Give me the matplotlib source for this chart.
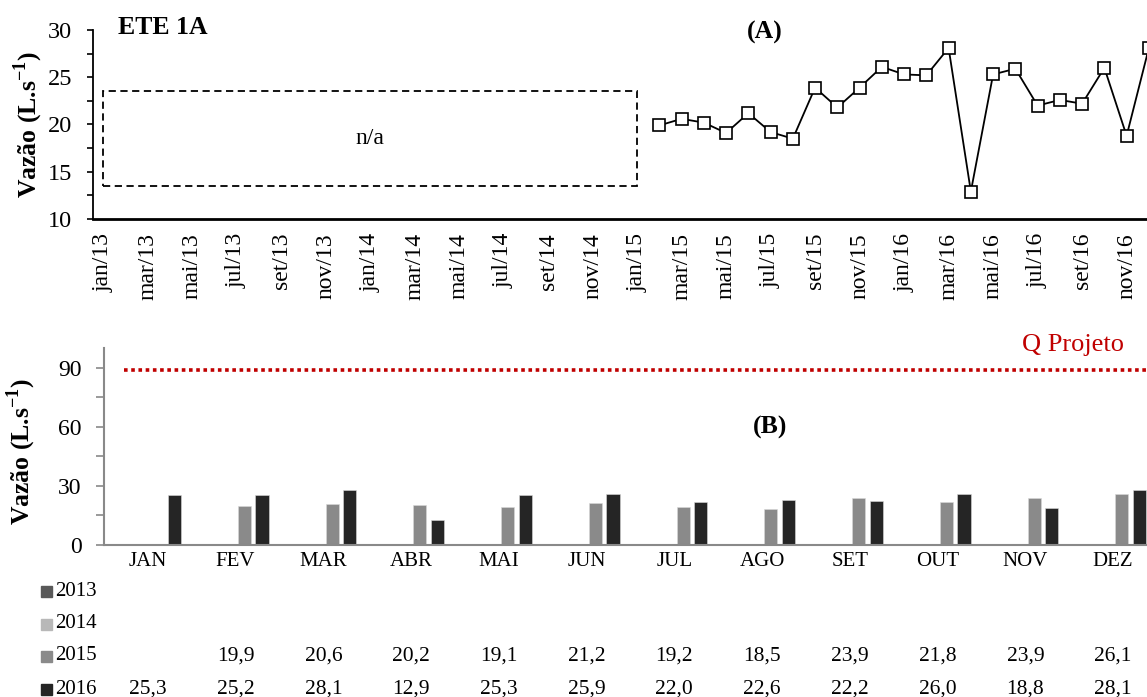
import numpy as np
import matplotlib
matplotlib.use("Agg")
import matplotlib.pyplot as plt
from matplotlib.patches import Rectangle
from matplotlib.ticker import MultipleLocator
import matplotlib.transforms as mtrans

plt.rcParams['font.family'] = ['Liberation Serif', 'DejaVu Serif']
plt.rcParams['mathtext.fontset'] = 'custom'
plt.rcParams['mathtext.rm'] = 'Liberation Serif'
plt.rcParams['mathtext.bf'] = 'Liberation Serif:bold'

# monthly flow, ETE 1A (L/s); nan = no measurement
meses = ['JAN', 'FEV', 'MAR', 'ABR', 'MAI', 'JUN', 'JUL', 'AGO', 'SET', 'OUT', 'NOV', 'DEZ']
abrev = ['jan', 'fev', 'mar', 'abr', 'mai', 'jun', 'jul', 'ago', 'set', 'out', 'nov', 'dez']
anos = ['2013', '2014', '2015', '2016']
v2013 = [np.nan] * 12
v2014 = [np.nan] * 12
v2015 = [np.nan, 19.9, 20.6, 20.2, 19.1, 21.2, 19.2, 18.5, 23.9, 21.8, 23.9, 26.1]
v2016 = [25.3, 25.2, 28.1, 12.9, 25.3, 25.9, 22.0, 22.6, 22.2, 26.0, 18.8, 28.1]
q_projeto = 89
cores = ['#595959', '#b8b8b8', '#8a8a8a', '#252525']

serie = v2013 + v2014 + v2015 + v2016
rotulos = [f'{m}/{a[2:]}' for a in anos for m in abrev]

W, H = 1147, 697
fig = plt.figure(figsize=(W / 100, H / 100), dpi=100)

def px(x0, y0, x1, y1):
    return [x0 / W, 1 - y1 / H, (x1 - x0) / W, (y1 - y0) / H]

# (A) time series
ax1 = fig.add_axes(px(93, 30, 1160, 219))
x = np.arange(len(serie))
ax1.plot(x, serie, color='black', lw=1.3, marker='s', ms=8, mfc='white',
         mec='black', mew=1.2, clip_on=False)
ax1.add_patch(Rectangle((0, 13.5), 24, 10, fill=False, ls=(0, (4, 2.5)), lw=1.3, color='black'))
ax1.text(12, 18.5, 'n/a', ha='center', va='center', fontsize=17)
ax1.set_xlim(-0.45, len(serie) - 0.5)
ax1.set_ylim(10, 30)
ax1.yaxis.set_major_locator(MultipleLocator(5))
ax1.yaxis.set_minor_locator(MultipleLocator(2.5))
ax1.set_xticks(x[::2])
ax1.set_xticklabels(rotulos[::2], rotation=90, fontsize=17)
ax1.tick_params(axis='x', length=0, pad=10)
ax1.tick_params(axis='y', which='both', direction='out', length=4, width=1.2, labelsize=17.5, pad=11)
for s in ['top', 'right']:
    ax1.spines[s].set_visible(False)
ax1.spines['left'].set_linewidth(1.3)
ax1.spines['bottom'].set_linewidth(2)

# (B) monthly bars per year
ax2 = fig.add_axes(px(104, 348, 1157, 545))
xc = np.arange(12)
larg = 0.15
for i, (ano, vals) in enumerate(zip(anos, [v2013, v2014, v2015, v2016])):
    ax2.bar(xc + (i - 1.5) * 0.2, vals, width=larg, color=cores[i],
            edgecolor='#d9d9d9', lw=0.4)
ax2.hlines(q_projeto, -0.27, 11.6, colors='#c00000', linestyles=(0, (1, 1)), lw=2.6)
ax2.set_xlim(-0.5, 11.5)
ax2.set_ylim(0, 100)
ax2.yaxis.set_minor_locator(MultipleLocator(15))
ax2.set_yticks([0, 30, 60, 90])
ax2.set_xticks(xc)
ax2.set_xticklabels(meses, fontsize=15)
ax2.tick_params(axis='x', length=0, pad=5)
ax2.tick_params(axis='y', which='both', direction='out', length=6, width=1.2,
                color='#898989', labelsize=17, pad=10)
for s in ['top', 'right']:
    ax2.spines[s].set_visible(False)
for s in ['left', 'bottom']:
    ax2.spines[s].set_color('#898989')
    ax2.spines[s].set_linewidth(1.5)

# data table below the bars
tr = mtrans.blended_transform_factory(ax2.transData, fig.transFigure)
linhas_y = [591, 624, 656, 689]
for ano, vals, cor, yp in zip(anos, [v2013, v2014, v2015, v2016], cores, linhas_y):
    fig.add_artist(Rectangle((41 / W, 1 - (yp + 5.5) / H), 11 / W, 11 / H,
                             color=cor, transform=fig.transFigure))
    fig.text(55 / W, 1 - yp / H, ano, ha='left', va='center', fontsize=15)
    for xi, v in zip(xc, vals):
        if not np.isnan(v):
            ax2.text(xi, 1 - yp / H, f'{v:.1f}'.replace('.', ','), transform=tr,
                     ha='center', va='center', fontsize=15.5)

# titles and labels
fig.text(118 / W, 1 - 28 / H, 'ETE 1A', fontsize=18.5, fontweight='bold', va='center')
fig.text(765 / W, 1 - 32 / H, '(A)', fontsize=18.5, fontweight='bold', ha='center', va='center')
fig.text(770 / W, 1 - 427 / H, '(B)', fontsize=18.5, fontweight='bold', ha='center', va='center')
fig.text(1124 / W, 1 - 345 / H, 'Q Projeto', fontsize=19, color='#c00000', ha='right', va='center')
ylab = r'Vazão (L.s$^{\mathbf{-1}}$)'
fig.text(28 / W, 1 - 125 / H, ylab, rotation=90, fontsize=18.5, fontweight='bold', ha='center', va='center')
fig.text(21 / W, 1 - 452 / H, ylab, rotation=90, fontsize=18.5, fontweight='bold', ha='center', va='center')

fig.savefig('out.png', dpi=100)
